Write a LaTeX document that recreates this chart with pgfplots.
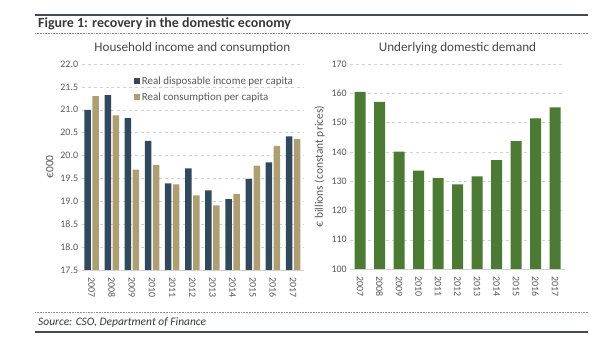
\documentclass[border=0pt]{standalone}
\usepackage{fontspec}
\setmainfont{Carlito}
\usepackage{pgfplots}
\pgfplotsset{compat=1.18}
\definecolor{inc}{HTML}{2F4A5E}
\definecolor{con}{HTML}{AF9E70}
\definecolor{grn}{HTML}{4B7A33}
\definecolor{txt}{HTML}{595959}
\definecolor{rulec}{HTML}{3E4D57}
\pgfplotsset{
  common/.style={
    scale only axis,
    anchor=south west,
    xmin=-0.5, xmax=10.5,
    xtick={0,...,10},
    xticklabels={2007,2008,2009,2010,2011,2012,2013,2014,2015,2016,2017},
    xticklabel style={rotate=-90, anchor=west, font=\fontsize{10}{12}\selectfont, text=txt},
    xticklabel shift=4bp,
    yticklabel style={font=\fontsize{10}{12}\selectfont, text=txt},
    /pgf/number format/assume math mode=true,
    major tick length=0pt,
    separate axis lines,
    axis x line*=bottom,
    axis y line*=left,
    x axis line style={draw=black!18, -},
    y axis line style={draw=none, -},
    ymajorgrids,
    grid style={dashed, black!18},
    ylabel style={font=\fontsize{11.5}{13}\selectfont, text=txt},
    title style={font=\fontsize{13.2}{15}\selectfont, text=black!72, yshift=1bp},
    clip=true,
  }
}
\begin{document}
\begin{tikzpicture}
\path[use as bounding box] (0bp,0bp) rectangle (614bp,347bp);
% header
\draw[rulec, line width=1.8bp] (35bp,332bp) -- (588bp,332bp);
\node[anchor=west, inner sep=0pt, font=\bfseries\fontsize{14}{16}\selectfont, text=black!78] at (38bp,323.5bp) {Figure 1: recovery in the domestic economy};
\draw[black!45, densely dotted, line width=0.6bp] (35bp,314bp) -- (588bp,314bp);
% footer
\draw[black!45, densely dotted, line width=0.6bp] (35bp,35bp) -- (588bp,35bp);
\node[anchor=west, inner sep=0pt, font=\itshape\fontsize{11.5}{13}\selectfont, text=black!78] at (38bp,25bp) {Source: CSO, Department of Finance};
\draw[rulec, line width=1.8bp] (35bp,15bp) -- (588bp,15bp);

% left axis
\begin{axis}[common,
  at={(81.6bp,77bp)},
  width=221.5bp, height=206bp,
  ymin=17.5, ymax=22.0,
  ytick={17.5,18,...,22},
  yticklabel style={/pgf/number format/.cd, fixed, fixed zerofill, precision=1},
  ylabel={€000},
  title={Household income and consumption},
  ybar=1.5bp, bar width=6.5bp,
  legend style={at={(0.22,0.96)}, anchor=north west, draw=none, fill=none,
    font=\fontsize{11}{13}\selectfont, text=txt, row sep=3bp,
    /tikz/every even column/.append style={column sep=2bp}},
  legend cell align=left,
  legend image code/.code={\fill[#1] (0bp,-3.2bp) rectangle (6.4bp,3.2bp);},
]
\addplot[fill=inc, draw=none] coordinates {(0,21.00) (1,21.32) (2,20.82) (3,20.32) (4,19.39) (5,19.72) (6,19.24) (7,19.05) (8,19.49) (9,19.85) (10,20.42)};
\addlegendentry{Real disposable income per capita}
\addplot[fill=con, draw=none] coordinates {(0,21.30) (1,20.88) (2,19.69) (3,19.79) (4,19.37) (5,19.13) (6,18.91) (7,19.16) (8,19.78) (9,20.21) (10,20.36)};
\addlegendentry{Real consumption per capita}
\end{axis}

% right axis
\begin{axis}[common,
  at={(350.25bp,78bp)},
  width=214.5bp, height=205bp,
  ymin=100, ymax=170,
  ytick={100,110,...,170},
  ylabel={€ billions (constant prices)},
  title={Underlying domestic demand},
  ybar, bar width=11bp,
]
\addplot[fill=grn, draw=none] coordinates {(0,160.5) (1,157.1) (2,140.1) (3,133.6) (4,131.0) (5,128.9) (6,131.6) (7,137.2) (8,143.7) (9,151.4) (10,155.2)};
\end{axis}
\end{tikzpicture}
\end{document}
